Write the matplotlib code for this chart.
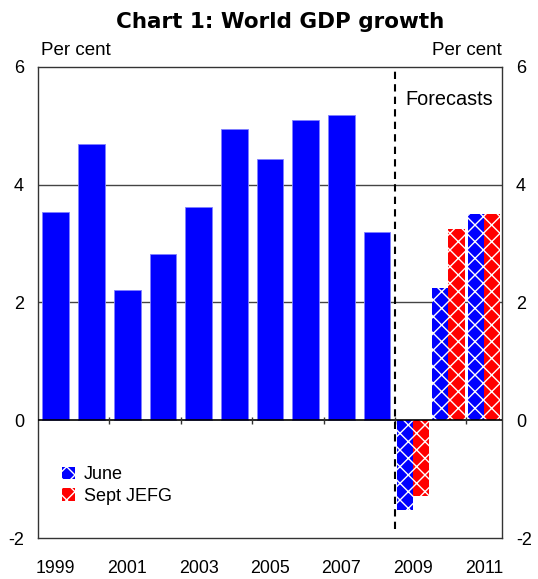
import matplotlib
matplotlib.use('Agg')
import matplotlib.pyplot as plt

plt.rcParams['font.family'] = ['Liberation Sans', 'DejaVu Sans']
plt.rcParams['hatch.linewidth'] = 1.0

# annual world GDP growth, per cent
years = [1999, 2000, 2001, 2002, 2003, 2004, 2005, 2006, 2007, 2008]
growth = [3.54, 4.69, 2.22, 2.82, 3.63, 4.95, 4.44, 5.10, 5.19, 3.19]

# forecasts
fc_years = [2009, 2010, 2011]
june = [-1.52, 2.25, 3.5]
sept_jefg = [-1.28, 3.25, 3.5]

xlabels = [1999, 2001, 2003, 2005, 2007, 2009, 2011]

blue = '#0000ff'
red = '#ff0000'

fig = plt.figure(figsize=(5.38, 5.79), dpi=100)
ax = fig.add_axes([0.0706, 0.0708, 0.8625, 0.8135])

ax.bar(years, growth, width=0.75, color=blue, edgecolor='#8080ff', linewidth=0.6, zorder=3)

w = 0.45
ax.bar([y - w / 2 for y in fc_years], june, width=w, color=blue, edgecolor='white',
       linewidth=0, hatch='xx', label='June', zorder=3)
ax.bar([y + w / 2 for y in fc_years], sept_jefg, width=w, color=red, edgecolor='white',
       linewidth=0, hatch='xx', label='Sept JEFG', zorder=3)

ax.set_xlim(1998.5, 2011.5)
ax.set_ylim(-2, 6)

# horizontal grid and zero line
for g in [2, 4]:
    ax.axhline(g, color='#444444', lw=1.0, zorder=1)
ax.axhline(0, color='black', lw=1.2, zorder=4)

# small ticks on the zero line every two years
bounds = [2000.5, 2002.5, 2004.5, 2006.5, 2008.5, 2010.5]
ax.vlines(bounds, -0.06, 0.06, color='#333333', lw=1.0, zorder=4)

# forecast divider
ax.plot([2008.5, 2008.5], [-1.85, 6], color='black', lw=1.5, ls=(0, (3.5, 2.5)), zorder=5)
ax.text(2008.78, 5.44, 'Forecasts', fontsize=14.3, ha='left', va='center')

ax.set_yticks([-2, 0, 2, 4, 6])
ax.set_yticklabels(['-2', '0', '2', '4', '6'])
ax.tick_params(axis='y', length=0, pad=10, labelsize=13, labelright=True, right=False)
ax.set_xticks(xlabels)
ax.set_xticklabels([str(x) for x in xlabels])
ax.tick_params(axis='x', length=0, pad=16, labelsize=12.8)

for s in ax.spines.values():
    s.set_color('#333333')
    s.set_linewidth(1.0)

fig.text(0.52, 0.962, 'Chart 1: World GDP growth', fontsize=15.5, fontweight='bold',
         family='DejaVu Sans', ha='center', va='center')
fig.text(41 / 538, 0.9136, 'Per cent', fontsize=13.5, ha='left', va='center')
fig.text(502 / 538, 0.9136, 'Per cent', fontsize=13.5, ha='right', va='center')

ax.legend(loc='upper left', bbox_to_anchor=(0.052, 0.152), frameon=False, fontsize=13,
          borderpad=0, borderaxespad=0, handlelength=0.7, handleheight=0.7,
          handletextpad=0.5, labelspacing=0.25)

fig.savefig('out.png', dpi=100)
